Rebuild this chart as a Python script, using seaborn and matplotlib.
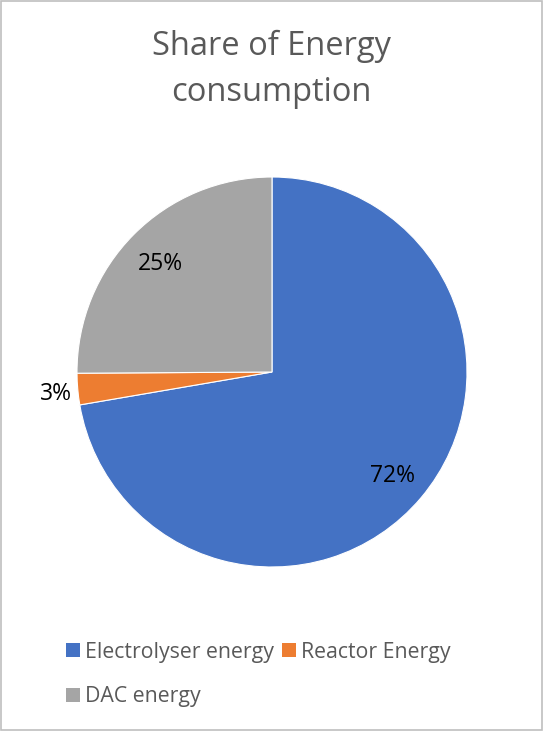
import numpy as np
import matplotlib
matplotlib.use("Agg")
import matplotlib.pyplot as plt
import seaborn as sns
from matplotlib.patches import Rectangle, Patch

categories = ["Electrolyser energy", "Reactor Energy", "DAC energy"]
values = [72.3, 2.6, 25.1]
colors = ["#4472C4", "#ED7D31", "#A5A5A5"]
title = "Share of Energy\nconsumption"

sns.set_theme(style="white")
plt.rcParams["font.family"] = ["Open Sans", "DejaVu Sans"]

fig = plt.figure(figsize=(5.43, 7.31), dpi=100)
fig.patch.set_facecolor("white")
fig.patches.append(Rectangle((0.002, 0.002), 0.996, 0.996, transform=fig.transFigure,
                             fill=False, edgecolor="#BFBFBF", linewidth=1.2))

ax = fig.add_axes([77 / 543, 164 / 731, 390 / 543, 390 / 731])
wedges, texts = ax.pie(values, colors=colors, startangle=90, counterclock=False,
                       wedgeprops=dict(edgecolor="white", linewidth=0.8))
ax.set_xlim(-1, 1)
ax.set_ylim(-1, 1)
ax.set_aspect("equal")
ax.axis("off")

total = sum(values)
for w, v in zip(wedges, values):
    ang = np.deg2rad((w.theta1 + w.theta2) / 2)
    pct = v / total * 100
    r = 0.805 if pct > 5 else 1.11
    ax.text(r * np.cos(ang), r * np.sin(ang), f"{pct:.0f}%", ha="center", va="center_baseline",
            fontsize=16.5, color="#000000")

fig.text(0.5, 1 - 69 / 731, title, ha="center", va="center", fontsize=23.5,
         color="#595959", linespacing=1.52)

order = [0, 2, 1]
handles = [Patch(facecolor=colors[i], edgecolor="none") for i in order]
labels = [categories[i] for i in order]
fig.legend(handles, labels, ncol=2, loc="center left", bbox_to_anchor=(66 / 543, 1 - 674.5 / 731),
           frameon=False, fontsize=15.3, labelcolor="#595959", handlelength=0.65, handleheight=0.65,
           handletextpad=0.25, columnspacing=0.38, labelspacing=1.12, borderpad=0,
           borderaxespad=0)

fig.savefig("out.png", dpi=100, facecolor="white")
